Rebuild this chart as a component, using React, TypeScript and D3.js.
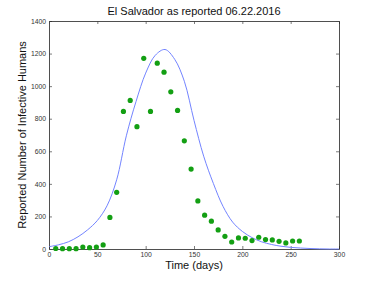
import { useEffect, useRef } from "react";
import * as d3 from "d3";

// reported cases, weekly
const reportDays = [7, 14, 21, 28, 35, 42, 49, 56, 63, 70, 77, 84, 91, 98, 105, 112, 119, 126, 133, 140, 147, 154, 161, 168, 175, 182, 189, 196, 203, 210, 217, 224, 231, 238, 245, 252, 259];
const reportCases = [3, 2, 2, 2, 12, 8, 12, 25, 194, 348, 845, 912, 751, 1171, 845, 1141, 1086, 965, 851, 664, 491, 295, 208, 171, 117, 78, 43, 68, 66, 52, 72, 58, 56, 47, 37, 49, 49];

// model curve
const modelDays = [0, 10, 20, 30, 40, 50, 60, 70, 80, 90, 100, 110, 120, 130, 140, 150, 160, 170, 180, 190, 200, 210, 220, 230, 240, 250, 260, 270, 280, 290, 300];
const modelValues = [14, 26, 44, 75, 118, 175, 265, 425, 695, 905, 1080, 1190, 1225, 1165, 1030, 790, 570, 403, 262, 165, 108, 70, 44, 28, 17, 10, 6, 3, 1, 0, 0];

const xTicks = [0, 50, 100, 150, 200, 250, 300];
const yTicks = [0, 200, 400, 600, 800, 1000, 1200, 1400];

export default function App() {
    const svgRef = useRef<SVGSVGElement>(null);

    useEffect(() => {
        const width = 374, height = 281;
        const margin = { top: 21, right: 35, bottom: 32, left: 49 };
        const w = width - margin.left - margin.right;
        const h = height - margin.top - margin.bottom;

        const svg = d3.select(svgRef.current);
        svg.selectAll("*").remove();

        const g = svg.append("g").attr("transform", `translate(${margin.left},${margin.top})`);

        const x = d3.scaleLinear().domain([0, 300]).range([0, w]);
        const y = d3.scaleLinear().domain([0, 1400]).range([h, 0]);

        // axes, ticks pointing inward (matlab style)
        const font = "Liberation Sans, Arial, sans-serif";
        const bottom = g.append("g")
            .attr("transform", `translate(0,${h})`)
            .call(d3.axisBottom(x).tickValues(xTicks).tickSizeInner(-3).tickSizeOuter(0).tickPadding(3).tickFormat(d3.format("d")));
        const left = g.append("g")
            .call(d3.axisLeft(y).tickValues(yTicks).tickSizeInner(-3).tickSizeOuter(0).tickPadding(3).tickFormat(d3.format("d")));
        const top = g.append("g")
            .call(d3.axisTop(x).tickValues(xTicks).tickSizeInner(-3).tickSizeOuter(0).tickFormat(() => ""));
        const right = g.append("g")
            .attr("transform", `translate(${w},0)`)
            .call(d3.axisRight(y).tickValues(yTicks).tickSizeInner(-3).tickSizeOuter(0).tickFormat(() => ""));

        [bottom, left, top, right].forEach((a) => {
            a.select(".domain").attr("stroke", "#222").attr("stroke-width", 0.8);
            a.selectAll(".tick line").attr("stroke", "#444").attr("stroke-width", 0.7);
            a.selectAll(".tick text").attr("fill", "#333").style("font-size", "6.8px").style("font-family", font);
        });

        // model curve
        const line = d3.line<number>()
            .x((d, i) => x(modelDays[i]))
            .y((d) => y(d))
            .curve(d3.curveCatmullRom.alpha(0.5));
        g.append("path")
            .datum(modelValues)
            .attr("fill", "none")
            .attr("stroke", "#7384ff")
            .attr("stroke-width", 1)
            .attr("d", line);

        // reported points
        g.append("g")
            .selectAll("circle")
            .data(reportCases)
            .enter()
            .append("circle")
            .attr("cx", (d, i) => x(reportDays[i]))
            .attr("cy", (d) => y(d))
            .attr("r", 2.6)
            .attr("fill", "#139f13");

        // labels
        svg.append("text")
            .attr("x", margin.left + w / 2)
            .attr("y", 15)
            .attr("text-anchor", "middle")
            .style("font-family", font)
            .style("font-size", "11px")
            .attr("fill", "#111")
            .text("El Salvador as reported 06.22.2016");

        svg.append("text")
            .attr("x", margin.left + w / 2)
            .attr("y", 269)
            .attr("text-anchor", "middle")
            .style("font-family", font)
            .style("font-size", "11px")
            .attr("fill", "#111")
            .text("Time (days)");

        svg.append("text")
            .attr("transform", `translate(26,${margin.top + h / 2}) rotate(-90)`)
            .attr("text-anchor", "middle")
            .style("font-family", font)
            .style("font-size", "11px")
            .attr("fill", "#111")
            .text("Reported Number of Infective Humans");
    }, []);

    return (
        <svg
            ref={svgRef}
            width={374}
            height={281}
            style={{ position: "absolute", left: 0, top: 0, background: "#fff" }}
        />
    );
}
